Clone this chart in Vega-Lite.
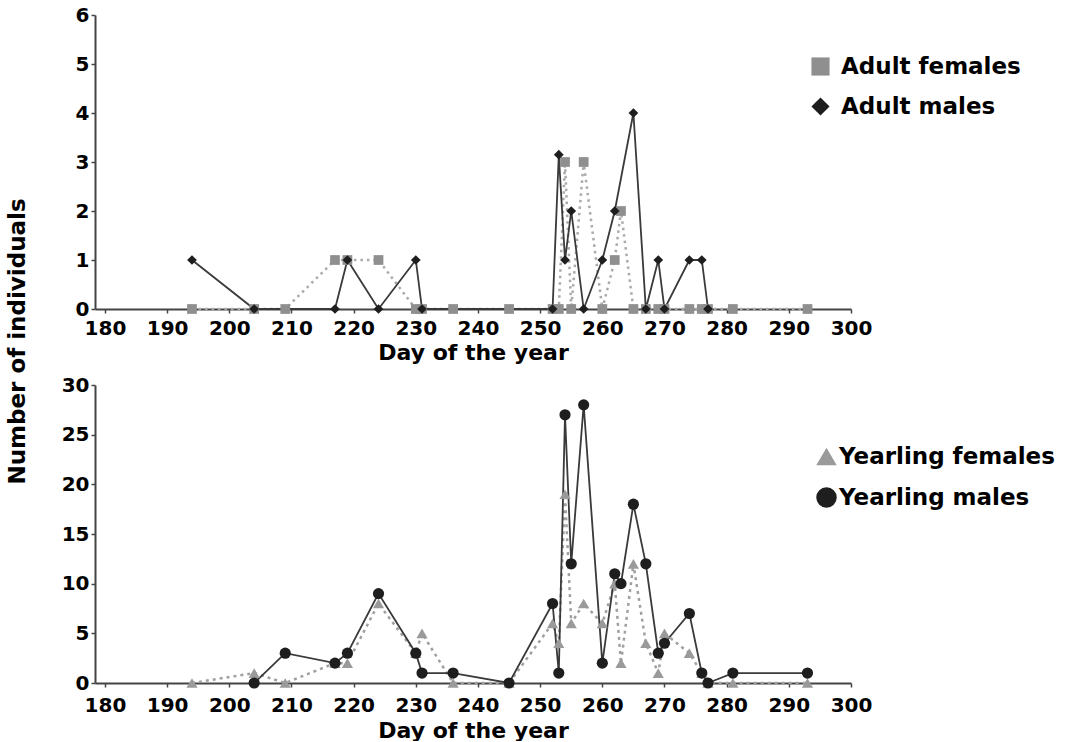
{
  "$schema": "https://vega.github.io/schema/vega-lite/v6.json",
  "background": "white",
  "padding": {"left": 6, "top": 5, "right": 0, "bottom": 0},
  "bounds": "flush",
  "spacing": 76,
  "config": {
    "font": "DejaVu Sans",
    "view": {"stroke": null},
    "axis": {
      "labelFont": "DejaVu Sans", "labelFontWeight": "bold", "labelFontSize": 20, "labelColor": "#000",
      "titleFont": "DejaVu Sans", "titleFontWeight": "bold", "titleFontSize": 22, "titleColor": "#000",
      "domainColor": "#444", "domainWidth": 2, "tickColor": "#444", "tickSize": 4, "tickWidth": 1.5, "grid": false,
      "labelFlush": false, "labelOverlap": false
    },
    "legend": {"labelLimit": 400}
  },
  "datasets": {
    "adult": [
      {"day": 194, "count": 0, "group": "Adult females"},
      {"day": 204, "count": 0, "group": "Adult females"},
      {"day": 209, "count": 0, "group": "Adult females"},
      {"day": 217, "count": 1, "group": "Adult females"},
      {"day": 219, "count": 1, "group": "Adult females"},
      {"day": 224, "count": 1, "group": "Adult females"},
      {"day": 230, "count": 0, "group": "Adult females"},
      {"day": 231, "count": 0, "group": "Adult females"},
      {"day": 236, "count": 0, "group": "Adult females"},
      {"day": 245, "count": 0, "group": "Adult females"},
      {"day": 252, "count": 0, "group": "Adult females"},
      {"day": 253, "count": 0, "group": "Adult females"},
      {"day": 254, "count": 3, "group": "Adult females"},
      {"day": 255, "count": 0, "group": "Adult females"},
      {"day": 257, "count": 3, "group": "Adult females"},
      {"day": 260, "count": 0, "group": "Adult females"},
      {"day": 262, "count": 1, "group": "Adult females"},
      {"day": 263, "count": 2, "group": "Adult females"},
      {"day": 265, "count": 0, "group": "Adult females"},
      {"day": 267, "count": 0, "group": "Adult females"},
      {"day": 269, "count": 0, "group": "Adult females"},
      {"day": 270, "count": 0, "group": "Adult females"},
      {"day": 274, "count": 0, "group": "Adult females"},
      {"day": 276, "count": 0, "group": "Adult females"},
      {"day": 277, "count": 0, "group": "Adult females"},
      {"day": 281, "count": 0, "group": "Adult females"},
      {"day": 293, "count": 0, "group": "Adult females"},
      {"day": 194, "count": 1, "group": "Adult males"},
      {"day": 204, "count": 0, "group": "Adult males"},
      {"day": 217, "count": 0, "group": "Adult males"},
      {"day": 219, "count": 1, "group": "Adult males"},
      {"day": 224, "count": 0, "group": "Adult males"},
      {"day": 230, "count": 1, "group": "Adult males"},
      {"day": 231, "count": 0, "group": "Adult males"},
      {"day": 252, "count": 0, "group": "Adult males"},
      {"day": 253, "count": 3.15, "group": "Adult males"},
      {"day": 254, "count": 1, "group": "Adult males"},
      {"day": 255, "count": 2, "group": "Adult males"},
      {"day": 257, "count": 0, "group": "Adult males"},
      {"day": 260, "count": 1, "group": "Adult males"},
      {"day": 262, "count": 2, "group": "Adult males"},
      {"day": 265, "count": 4, "group": "Adult males"},
      {"day": 267, "count": 0, "group": "Adult males"},
      {"day": 269, "count": 1, "group": "Adult males"},
      {"day": 270, "count": 0, "group": "Adult males"},
      {"day": 274, "count": 1, "group": "Adult males"},
      {"day": 276, "count": 1, "group": "Adult males"},
      {"day": 277, "count": 0, "group": "Adult males"}
    ],
    "yearling": [
      {"day": 194, "count": 0, "group": "Yearling females"},
      {"day": 204, "count": 1, "group": "Yearling females"},
      {"day": 209, "count": 0, "group": "Yearling females"},
      {"day": 217, "count": 2, "group": "Yearling females"},
      {"day": 219, "count": 2, "group": "Yearling females"},
      {"day": 224, "count": 8, "group": "Yearling females"},
      {"day": 230, "count": 3, "group": "Yearling females"},
      {"day": 231, "count": 5, "group": "Yearling females"},
      {"day": 236, "count": 0, "group": "Yearling females"},
      {"day": 245, "count": 0, "group": "Yearling females"},
      {"day": 252, "count": 6, "group": "Yearling females"},
      {"day": 253, "count": 4, "group": "Yearling females"},
      {"day": 254, "count": 19, "group": "Yearling females"},
      {"day": 255, "count": 6, "group": "Yearling females"},
      {"day": 257, "count": 8, "group": "Yearling females"},
      {"day": 260, "count": 6, "group": "Yearling females"},
      {"day": 262, "count": 10, "group": "Yearling females"},
      {"day": 263, "count": 2, "group": "Yearling females"},
      {"day": 265, "count": 12, "group": "Yearling females"},
      {"day": 267, "count": 4, "group": "Yearling females"},
      {"day": 269, "count": 1, "group": "Yearling females"},
      {"day": 270, "count": 5, "group": "Yearling females"},
      {"day": 274, "count": 3, "group": "Yearling females"},
      {"day": 276, "count": 1, "group": "Yearling females"},
      {"day": 277, "count": 0, "group": "Yearling females"},
      {"day": 281, "count": 0, "group": "Yearling females"},
      {"day": 293, "count": 0, "group": "Yearling females"},
      {"day": 204, "count": 0, "group": "Yearling males"},
      {"day": 209, "count": 3, "group": "Yearling males"},
      {"day": 217, "count": 2, "group": "Yearling males"},
      {"day": 219, "count": 3, "group": "Yearling males"},
      {"day": 224, "count": 9, "group": "Yearling males"},
      {"day": 230, "count": 3, "group": "Yearling males"},
      {"day": 231, "count": 1, "group": "Yearling males"},
      {"day": 236, "count": 1, "group": "Yearling males"},
      {"day": 245, "count": 0, "group": "Yearling males"},
      {"day": 252, "count": 8, "group": "Yearling males"},
      {"day": 253, "count": 1, "group": "Yearling males"},
      {"day": 254, "count": 27, "group": "Yearling males"},
      {"day": 255, "count": 12, "group": "Yearling males"},
      {"day": 257, "count": 28, "group": "Yearling males"},
      {"day": 260, "count": 2, "group": "Yearling males"},
      {"day": 262, "count": 11, "group": "Yearling males"},
      {"day": 263, "count": 10, "group": "Yearling males"},
      {"day": 265, "count": 18, "group": "Yearling males"},
      {"day": 267, "count": 12, "group": "Yearling males"},
      {"day": 269, "count": 3, "group": "Yearling males"},
      {"day": 270, "count": 4, "group": "Yearling males"},
      {"day": 274, "count": 7, "group": "Yearling males"},
      {"day": 276, "count": 1, "group": "Yearling males"},
      {"day": 277, "count": 0, "group": "Yearling males"},
      {"day": 281, "count": 1, "group": "Yearling males"},
      {"day": 293, "count": 1, "group": "Yearling males"}
    ]
  },
  "vconcat": [
    {
      "width": 756,
      "height": 294,
      "data": {"name": "adult"},
      "encoding": {
        "x": {"field": "day", "type": "quantitative", "scale": {"domain": [178.4, 300], "nice": false, "zero": false},
              "axis": {"values": [180, 190, 200, 210, 220, 230, 240, 250, 260, 270, 280, 290, 300], "title": "Day of the year", "labelPadding": 5, "titlePadding": 4}},
        "y": {"field": "count", "type": "quantitative", "scale": {"domain": [0, 6], "nice": false},
              "axis": {"values": [0, 1, 2, 3, 4, 5, 6], "title": "Number of individuals", "titleFontSize": 23, "titleX": -66, "titleY": 326, "labelPadding": 2}}
      },
      "layer": [
        {"transform": [{"filter": "datum.group === 'Adult females'"}],
         "mark": {"type": "line", "color": "#aaaaaa", "strokeWidth": 2.5, "strokeDash": [2.5, 4]}},
        {"transform": [{"filter": "datum.group === 'Adult males'"}],
         "mark": {"type": "line", "color": "#3a3a3a", "strokeWidth": 1.8}},
        {"mark": {"type": "point", "filled": true, "opacity": 1, "size": 95},
         "encoding": {
           "color": {"field": "group", "type": "nominal",
                     "scale": {"domain": ["Adult females", "Adult males"], "range": ["#8f8f8f", "#1e1e1e"]},
                     "legend": {"title": null, "orient": "none", "legendX": 714, "legendY": 40, "symbolSize": 330, "labelFont": "DejaVu Sans", "labelFontSize": 23, "labelFontWeight": "bold", "labelColor": "#000", "labelOffset": 9, "rowPadding": 16, "symbolStrokeWidth": 0}},
           "shape": {"field": "group", "type": "nominal",
                     "scale": {"domain": ["Adult females", "Adult males"], "range": ["square", "diamond"]},
                     "legend": {"title": null, "orient": "none", "legendX": 714, "legendY": 40, "symbolSize": 330, "labelFont": "DejaVu Sans", "labelFontSize": 23, "labelFontWeight": "bold", "labelColor": "#000", "labelOffset": 9, "rowPadding": 16, "symbolStrokeWidth": 0}}
         }}
      ]
    },
    {
      "width": 756,
      "height": 298,
      "data": {"name": "yearling"},
      "encoding": {
        "x": {"field": "day", "type": "quantitative", "scale": {"domain": [178.4, 300], "nice": false, "zero": false},
              "axis": {"values": [180, 190, 200, 210, 220, 230, 240, 250, 260, 270, 280, 290, 300], "title": "Day of the year", "labelPadding": 8, "titlePadding": 5}},
        "y": {"field": "count", "type": "quantitative", "scale": {"domain": [0, 30], "nice": false},
              "axis": {"values": [0, 5, 10, 15, 20, 25, 30], "title": null, "labelPadding": 2}}
      },
      "layer": [
        {"transform": [{"filter": "datum.group === 'Yearling females'"}],
         "mark": {"type": "line", "color": "#a0a0a0", "strokeWidth": 2.5, "strokeDash": [3, 4]}},
        {"transform": [{"filter": "datum.group === 'Yearling males'"}],
         "mark": {"type": "line", "color": "#3a3a3a", "strokeWidth": 1.8}},
        {"mark": {"type": "point", "filled": true, "opacity": 1, "size": 125},
         "encoding": {
           "color": {"field": "group", "type": "nominal",
                     "scale": {"domain": ["Yearling females", "Yearling males"], "range": ["#9a9a9a", "#1e1e1e"]},
                     "legend": {"title": null, "orient": "none", "legendX": 720, "legendY": 60, "symbolSize": 420, "labelFont": "DejaVu Sans", "labelFontSize": 23, "labelFontWeight": "bold", "labelColor": "#000", "labelOffset": 1, "rowPadding": 17, "symbolStrokeWidth": 0}},
           "shape": {"field": "group", "type": "nominal",
                     "scale": {"domain": ["Yearling females", "Yearling males"], "range": ["triangle-up", "circle"]},
                     "legend": {"title": null, "orient": "none", "legendX": 720, "legendY": 60, "symbolSize": 420, "labelFont": "DejaVu Sans", "labelFontSize": 23, "labelFontWeight": "bold", "labelColor": "#000", "labelOffset": 1, "rowPadding": 17, "symbolStrokeWidth": 0}}
         }}
      ]
    }
  ],
  "resolve": {"scale": {"color": "independent", "shape": "independent"}}
}
